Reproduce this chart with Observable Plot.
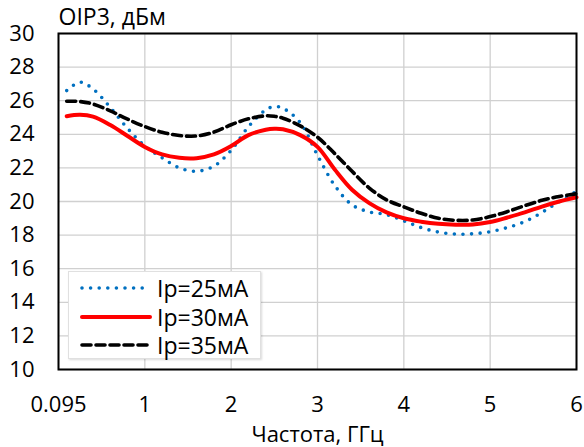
<!DOCTYPE html>
<html>
<head>
<meta charset="utf-8">
<script src="https://cdn.jsdelivr.net/npm/d3@7"></script>
<script src="https://cdn.jsdelivr.net/npm/@observablehq/plot@0.6"></script>
<style>
  body { margin: 0; background: #fff; }
  #wrap { position: relative; width: 584px; height: 447px; font-family: "Open Sans", sans-serif; }
  #legend { position: absolute; left: 68px; top: 271px; width: 193px; height: 88px; background: #fff;
            border: 1px solid #e0e0e0; box-shadow: 1px 1px 2px rgba(0,0,0,0.15); box-sizing: border-box; }
  .row { position: absolute; left: 0; height: 24px; display: flex; align-items: center; }
  .row svg { margin-left: 11px; }
  .row span { margin-left: 5px; font-size: 23px; color: #000; line-height: 24px; }
</style>
</head>
<body>
<div id="wrap"></div>
<script>
const title = "OIP3, дБм";
const xLabel = "Частота, ГГц";
const seriesNames = ["Ip=25мА", "Ip=30мА", "Ip=35мА"];
const seriesColors = ["#0070c0", "#ff0000", "#000000"];

const freq = [0.095, 0.25, 0.4, 0.6, 0.8, 1.0, 1.2, 1.4, 1.6, 1.8, 2.0, 2.2, 2.4, 2.5, 2.6, 2.8, 3.0, 3.2, 3.4, 3.6, 3.8, 4.0, 4.2, 4.4, 4.6, 4.8, 5.0, 5.2, 5.4, 5.6, 5.8, 6.0];
const ip25 = [26.6, 27.1, 26.7, 25.6, 24.35, 23.3, 22.6, 22.0, 21.8, 22.1, 23.05, 24.45, 25.45, 25.65, 25.55, 24.7, 22.75, 20.95, 19.8, 19.38, 19.22, 18.85, 18.45, 18.18, 18.06, 18.08, 18.2, 18.45, 18.8, 19.35, 20.0, 20.6];
const ip30 = [25.08, 25.16, 25.05, 24.55, 23.9, 23.25, 22.8, 22.6, 22.58, 22.8, 23.3, 23.95, 24.27, 24.33, 24.3, 23.95, 23.25, 21.9, 20.7, 19.9, 19.35, 19.0, 18.8, 18.67, 18.62, 18.63, 18.78, 19.05, 19.35, 19.7, 20.0, 20.25];
const ip35 = [25.97, 25.95, 25.8, 25.4, 24.9, 24.46, 24.12, 23.93, 23.9, 24.13, 24.57, 24.92, 25.1, 25.07, 24.96, 24.5, 23.83, 22.85, 21.8, 20.8, 20.1, 19.68, 19.3, 19.0, 18.88, 18.9, 19.1, 19.4, 19.75, 20.07, 20.3, 20.46];

const xTicks = [0, 1, 2, 3, 4, 5, 6];
const xTickLabels = ["0.095", "1", "2", "3", "4", "5", "6"];
const yTicks = [10, 12, 14, 16, 18, 20, 22, 24, 26, 28, 30];

const rows = (vals) => freq.map((f, i) => ({f, v: vals[i]}));

const chart = Plot.plot({
  width: 584,
  height: 447,
  marginTop: 33,
  marginLeft: 58,
  marginRight: 8,
  marginBottom: 78,
  style: {fontFamily: "Open Sans, sans-serif", fontSize: "22px", color: "#000", background: "#fff"},
  x: {domain: [0, 6]},
  y: {domain: [10, 30]},
  marks: [
    Plot.gridX(xTicks, {stroke: "#d0d0d0", strokeOpacity: 1, strokeWidth: 1.3}),
    Plot.gridY(yTicks, {stroke: "#d0d0d0", strokeOpacity: 1, strokeWidth: 1.3}),
    Plot.axisX({ticks: xTicks, tickFormat: (d) => xTickLabels[xTicks.indexOf(d)], tickSize: 0, tickPadding: 27,
                fontSize: 22, label: xLabel, labelAnchor: "center", labelArrow: "none", labelOffset: 72}),
    Plot.axisY({ticks: yTicks, tickSize: 0, tickPadding: 24, fontSize: 22, label: null}),
    Plot.line(rows(ip25), {x: "f", y: "v", curve: "catmull-rom", stroke: seriesColors[0], strokeWidth: 3.6,
                           strokeDasharray: "0 8.6", strokeLinecap: "round"}),
    Plot.line(rows(ip30), {x: "f", y: "v", curve: "catmull-rom", stroke: seriesColors[1], strokeWidth: 4}),
    Plot.line(rows(ip35), {x: "f", y: "v", curve: "catmull-rom", stroke: seriesColors[2], strokeWidth: 3.6,
                           strokeDasharray: "9 5"}),
    Plot.frame({stroke: "#000", strokeWidth: 2}),
    Plot.text([title], {frameAnchor: "top-left", text: d => d, textAnchor: "start", lineAnchor: "bottom",
                        dy: -9, fontSize: 23})
  ]
});

const wrap = document.getElementById("wrap");
wrap.appendChild(chart);

const legend = document.createElement("div");
legend.id = "legend";
const dash = ["0 8.6", null, "9 5"];
const widths = [3.6, 4, 3.6];
seriesNames.forEach((name, i) => {
  const row = document.createElement("div");
  row.className = "row";
  row.style.top = (4 + i * 28.5) + "px";
  row.innerHTML = `<svg width="72" height="10"><line x1="2" x2="70" y1="5" y2="5" stroke="${seriesColors[i]}"
     stroke-width="${widths[i]}" ${dash[i] ? `stroke-dasharray="${dash[i]}"` : ""} stroke-linecap="round"></line></svg><span>${name}</span>`;
  legend.appendChild(row);
});
wrap.appendChild(legend);
</script>
</body>
</html>
